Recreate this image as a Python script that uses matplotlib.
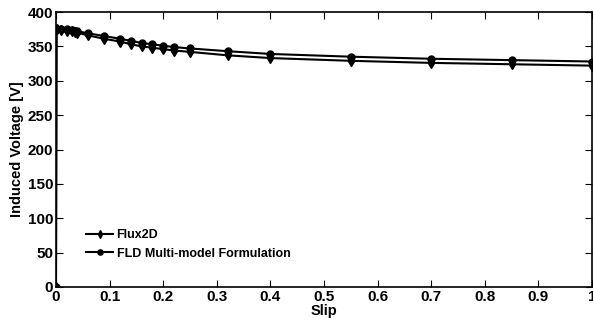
import numpy as np
import matplotlib.pyplot as plt

plt.rcParams['font.family'] = ['Liberation Sans', 'DejaVu Sans']
plt.rcParams['font.weight'] = 'bold'

slip = [0, 0.001, 0.01, 0.02, 0.03, 0.035, 0.04, 0.06, 0.09, 0.12, 0.14, 0.16,
        0.18, 0.2, 0.22, 0.25, 0.32, 0.4, 0.55, 0.7, 0.85, 1.0]
flux2d = [0, 375, 374, 373, 372, 371, 370, 366, 361, 357, 353, 350,
          348, 346, 344, 342, 337, 333, 329, 326, 324, 322]
fld = [0, 375, 375, 375, 374, 373, 372, 369, 365, 361, 358, 355,
       353, 351, 349, 347, 343, 339, 335, 332, 330, 328]

fig = plt.figure(figsize=(5.93, 3.22), dpi=100)
ax = fig.add_axes([0.0944, 0.1087, 0.9040, 0.854])

ax.plot(slip, flux2d, '-', color='black', marker='d', markersize=5.5, lw=1.5,
        label='Flux2D')
ax.plot(slip, fld, '-', color='black', marker='o', markersize=5, lw=1.5,
        label='FLD Multi-model Formulation')

ax.set_xlim(0, 1)
ax.set_ylim(0, 400)
ax.set_xticks(np.arange(0, 1.01, 0.1))
ax.set_xticklabels(['0', '0.1', '0.2', '0.3', '0.4', '0.5', '0.6', '0.7', '0.8', '0.9', '1'])
ax.set_yticks(np.arange(0, 401, 50))
ax.tick_params(direction='in', top=True, right=True, labelsize=11, pad=2, length=5)
for s in ax.spines.values():
    s.set_linewidth(1.2)

ax.set_xlabel('Slip', fontsize=10.5, fontweight='bold', labelpad=0)
ax.set_ylabel('Induced Voltage [V]', fontsize=10.5, fontweight='bold', labelpad=3)

ax.legend(loc='lower left', bbox_to_anchor=(0.035, 0.059), frameon=False,
          fontsize=9, handlelength=2.2, handletextpad=0.25, labelspacing=0.5,
          markerscale=0.75)

fig.savefig('out.png', dpi=100)
